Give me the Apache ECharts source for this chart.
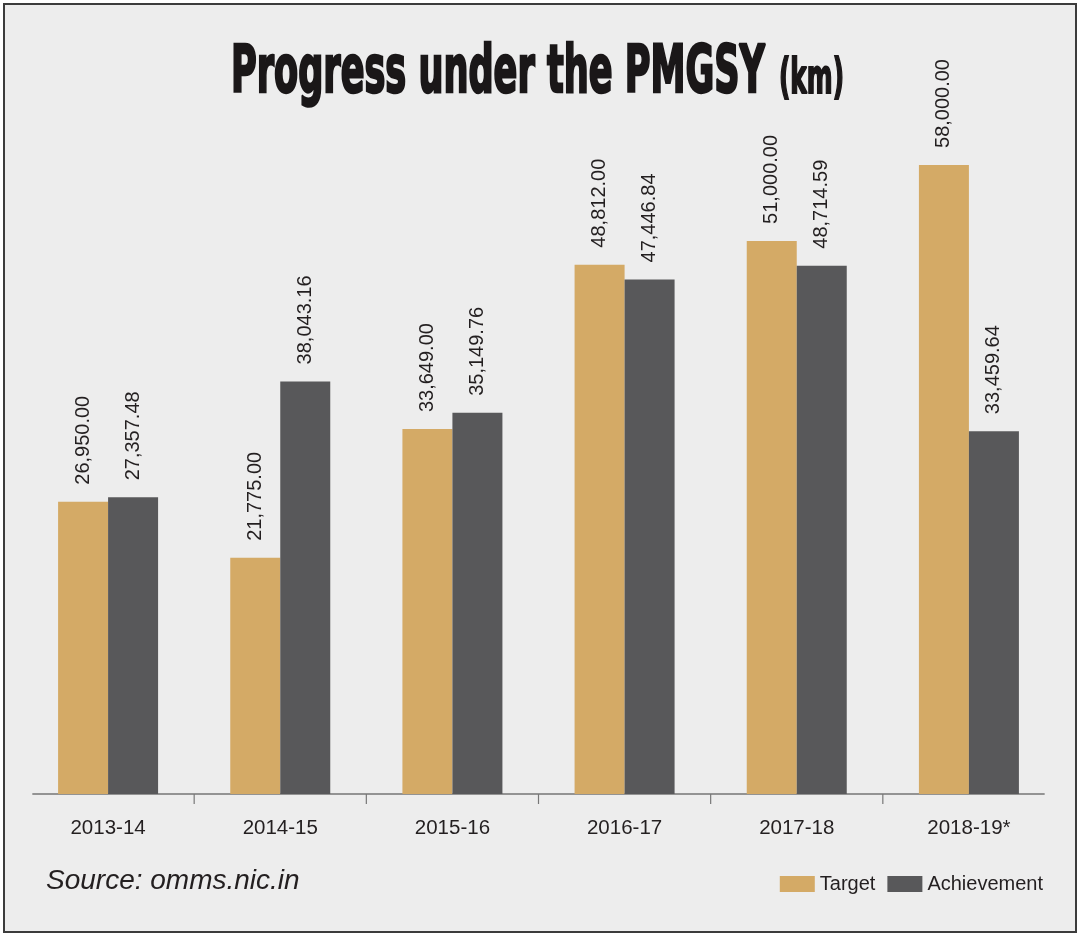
<!DOCTYPE html>
<html><head><meta charset="utf-8">
<script src="https://cdn.jsdelivr.net/npm/echarts@6/dist/echarts.min.js"></script>
<style>html,body{margin:0;padding:0;background:#fff}#c{width:1089px;height:940px}</style>
</head><body><div id="c"></div>
<script>
const categories = ['2013-14', '2014-15', '2015-16', '2016-17', '2017-18', '2018-19*'];
const targetValues = [26950, 21775, 33649, 48812, 51000, 58000];
const achievementValues = [27357.48, 38043.16, 35149.76, 47446.84, 48714.59, 33459.64];
const seriesNames = ['Target', 'Achievement'];
const titleMain = 'Progress under the PMGSY';
const titleUnit = '(km)';
const sourceText = 'Source: omms.nic.in';

const COND = '"DejaVu Sans Condensed", "Liberation Sans", sans-serif';
const SANS = '"Liberation Sans", Arial, sans-serif';
const TEXT = '#231f20';
const TAN = '#d4aa66';
const DARK = '#58585a';

function fmt(v) { return v.toLocaleString('en-US', {minimumFractionDigits: 2, maximumFractionDigits: 2}); }
function measure(text, font) { const c = document.createElement('canvas').getContext('2d'); c.font = font; return c.measureText(text).width; }

const chart = echarts.init(document.getElementById('c'));
const barLabel = {
  show: true, position: 'top', distance: 17, rotate: 90, align: 'left', verticalAlign: 'middle',
  fontFamily: SANS, fontSize: 20, color: TEXT, formatter: p => fmt(p.value)
};
chart.setOption({
  backgroundColor: '#ffffff',
  animation: false,
  grid: {left: 22, right: 34, top: 143.3, bottom: 146, containLabel: false},
  xAxis: {
    type: 'category', data: categories,
    axisLine: {show: false}, axisTick: {show: false},
    axisLabel: {fontFamily: SANS, fontSize: 20.5, color: TEXT, margin: 24}
  },
  yAxis: {type: 'value', min: 0, max: 60000, show: false, splitLine: {show: false}},
  legend: {
    data: seriesNames, right: 46, top: 874, itemWidth: 35, itemHeight: 16, itemGap: 12, icon: 'rect', padding: 0,
    textStyle: {fontFamily: SANS, fontSize: 20, color: TEXT}
  },
  series: [
    {name: seriesNames[0], type: 'bar', data: targetValues, barWidth: 50, barGap: '0%', itemStyle: {color: TAN}, label: barLabel, emphasis: {disabled: true}},
    {name: seriesNames[1], type: 'bar', data: achievementValues, barWidth: 50, barGap: '0%', itemStyle: {color: DARK}, label: barLabel, emphasis: {disabled: true}}
  ]
});

const y0 = chart.convertToPixel({yAxisIndex: 0}, 0);
const cx = categories.map((c, i) => chart.convertToPixel({xAxisIndex: 0}, i));
const band = cx[1] - cx[0];
const mainFont = 'bold 66px ' + COND;
const unitFont = 'bold 48px ' + COND;
const mainScale = 534 / measure(titleMain, mainFont);
const unitScale = 65 / measure(titleUnit, unitFont);

const els = [
  {type: 'rect', id: 'bg', z: -10, shape: {x: 4, y: 4, width: 1072, height: 928}, style: {fill: '#ededed', stroke: '#3c3c3c', lineWidth: 2}, silent: true},
  {type: 'line', id: 'axisline', shape: {x1: cx[0] - 0.44 * band, y1: y0, x2: cx[cx.length - 1] + 0.44 * band, y2: y0}, style: {stroke: '#3a3a3a', lineWidth: 1.2}, silent: true},
  {type: 'text', id: 'tmain', x: 231, y: 75, scaleX: mainScale, style: {text: titleMain, font: mainFont, fill: '#1a1718', stroke: '#1a1718', lineWidth: 2.5, textAlign: 'left', textVerticalAlign: 'middle', align: 'left', verticalAlign: 'middle'}, silent: true},
  {type: 'text', id: 'tunit', x: 779, y: 81, scaleX: unitScale, style: {text: titleUnit, font: unitFont, fill: '#1a1718', stroke: '#1a1718', lineWidth: 2, textAlign: 'left', textVerticalAlign: 'middle', align: 'left', verticalAlign: 'middle'}, silent: true},
  {type: 'text', id: 'source', x: 46, y: 881, style: {text: sourceText, font: 'italic 28px ' + SANS, fill: TEXT, textAlign: 'left', textVerticalAlign: 'middle', align: 'left', verticalAlign: 'middle'}, silent: true}
];
for (let i = 1; i < cx.length; i++) {
  const x = (cx[i - 1] + cx[i]) / 2;
  els.push({type: 'line', id: 'tick' + i, shape: {x1: x, y1: y0, x2: x, y2: y0 + 10}, style: {stroke: '#777', lineWidth: 1.2}, silent: true});
}
chart.setOption({graphic: {elements: els}});
</script>
</body></html>
